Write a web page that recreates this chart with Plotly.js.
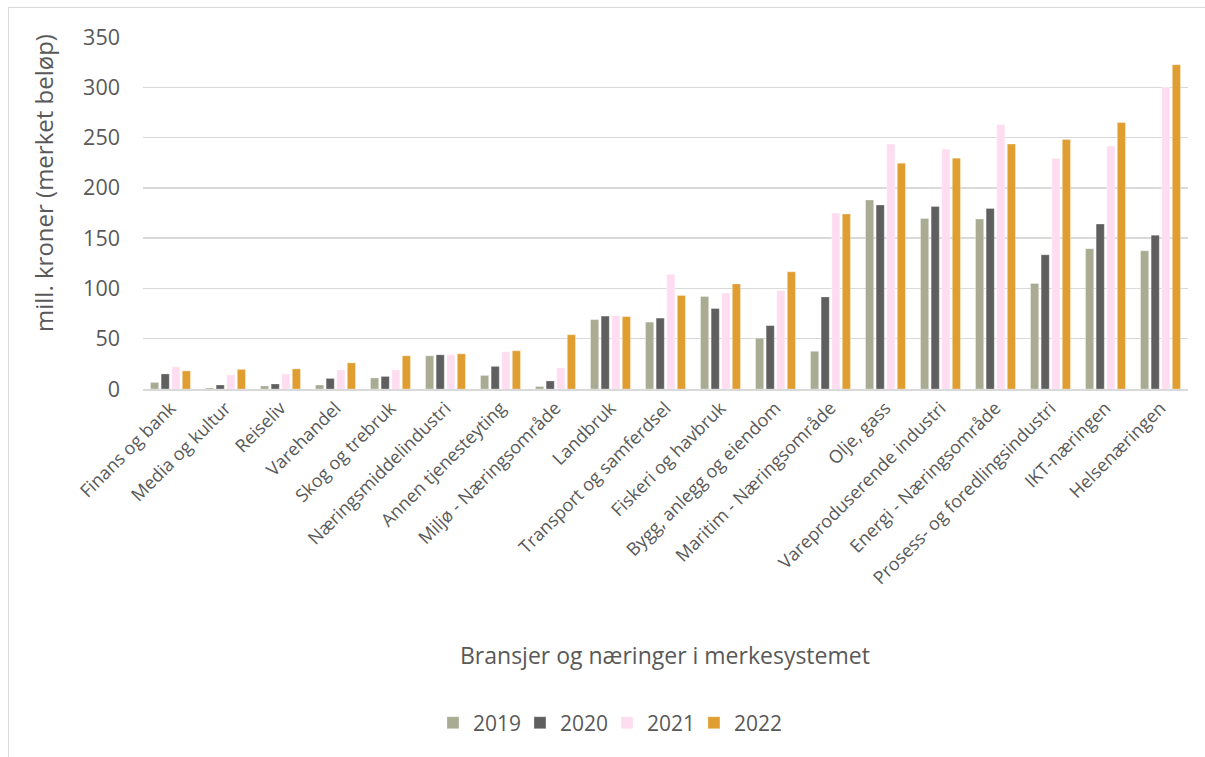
<!DOCTYPE html>
<html>
<head>
<meta charset="utf-8">
<script src="https://cdn.plot.ly/plotly-3.0.1.min.js"></script>
<style>
html,body{margin:0;padding:0;background:#fff;}
#wrap{position:relative;width:1205px;height:757px;overflow:hidden;}
#chart{width:1205px;height:757px;}
#frame{position:absolute;left:8px;top:7px;width:1300px;height:900px;border:1px solid #d9d9d9;pointer-events:none;box-sizing:border-box;}
</style>
</head>
<body>
<div id="wrap"><div id="chart"></div><div id="frame"></div></div>
<script>
const categories = ["Finans og bank","Media og kultur","Reiseliv","Varehandel","Skog og trebruk","Næringsmiddelindustri","Annen tjenesteyting","Miljø - Næringsområde","Landbruk","Transport og samferdsel","Fiskeri og havbruk","Bygg, anlegg og eiendom","Maritim - Næringsområde","Olje, gass","Vareproduserende industri","Energi - Næringsområde","Prosess- og foredlingsindustri","IKT-næringen","Helsenæringen"];
const y2019 = [6.5,1,3,4,11,33,13.5,2.5,69,66.5,92,50.5,37.5,188,169.5,169,105,139.5,137.5];
const y2020 = [15,4,5,10.5,12.5,34,22.5,8,72.5,70.5,80,63,91.5,183,181.5,179.5,133.5,164,153];
const y2021 = [22,14,15,19,19,34,37,21,73,114,95.5,98,175,243.5,238.5,263,229.5,241.5,300];
const y2022 = [18,19.5,20,26,33,35,38,54,72,93,104.5,116.5,174,224.5,229.5,243.5,248,265,322.5];
const seriesNames = ["2019","2020","2021","2022"];
const colors = ["#A9AC93","#5F5F5F","#FFDDF0","#E09E30"];
const yTicks = [0,50,100,150,200,250,300,350];

const font = "'Open Sans', sans-serif";
const vals = [y2019,y2020,y2021,y2022];
const traces = vals.map((v,i)=>({
  type:'bar', x:categories, y:v, name:seriesNames[i],
  marker:{color:colors[i], line:{color:'rgba(255,255,255,0.6)', width:0.5}},
  hoverinfo:'x+y+name'
}));

const layout = {
  width:1205, height:757,
  margin:{l:143, r:17, t:37, b:368},
  paper_bgcolor:'rgba(0,0,0,0)', plot_bgcolor:'rgba(0,0,0,0)',
  barmode:'group', bargap:0.23, bargroupgap:0.23,
  font:{family:font, color:'#595959', size:18},
  xaxis:{
    tickangle:-45, tickfont:{size:18, color:'#595959', family:font},
    showgrid:false, showline:true, linecolor:'#d9d9d9', linewidth:1.5,
    ticks:'', automargin:false
  },
  yaxis:{
    range:[0,350], tickvals:yTicks, ticktext:yTicks.map(String),
    showgrid:true, gridcolor:'#d9d9d9', gridwidth:1.5,
    zeroline:false, showline:false, ticks:'',
    tickfont:{size:21.5, color:'#595959', family:font},
    ticklabelstandoff:22, automargin:false
  },
  showlegend:true,
  legend:{orientation:'h', x:0.444, xanchor:'center', y:-0.949, yanchor:'middle',
    font:{size:21, color:'#595959', family:font}, itemwidth:30, traceorder:'normal',
    entrywidth:42, entrywidthmode:'pixels'},
  annotations:[
    {text:'Bransjer og næringer i merkesystemet', xref:'paper', yref:'paper', x:0.4995, y:-0.7557,
     xanchor:'center', yanchor:'middle', showarrow:false, font:{size:23, color:'#595959', family:font}},
    {text:'mill. kroner (merket beløp)', xref:'paper', yref:'paper', x:-0.0958, y:0.585,
     xanchor:'center', yanchor:'middle', textangle:-90, showarrow:false, font:{size:24, color:'#595959', family:font}}
  ]
};
Plotly.newPlot('chart', traces, layout, {displayModeBar:false, staticPlot:true});
</script>
</body>
</html>
